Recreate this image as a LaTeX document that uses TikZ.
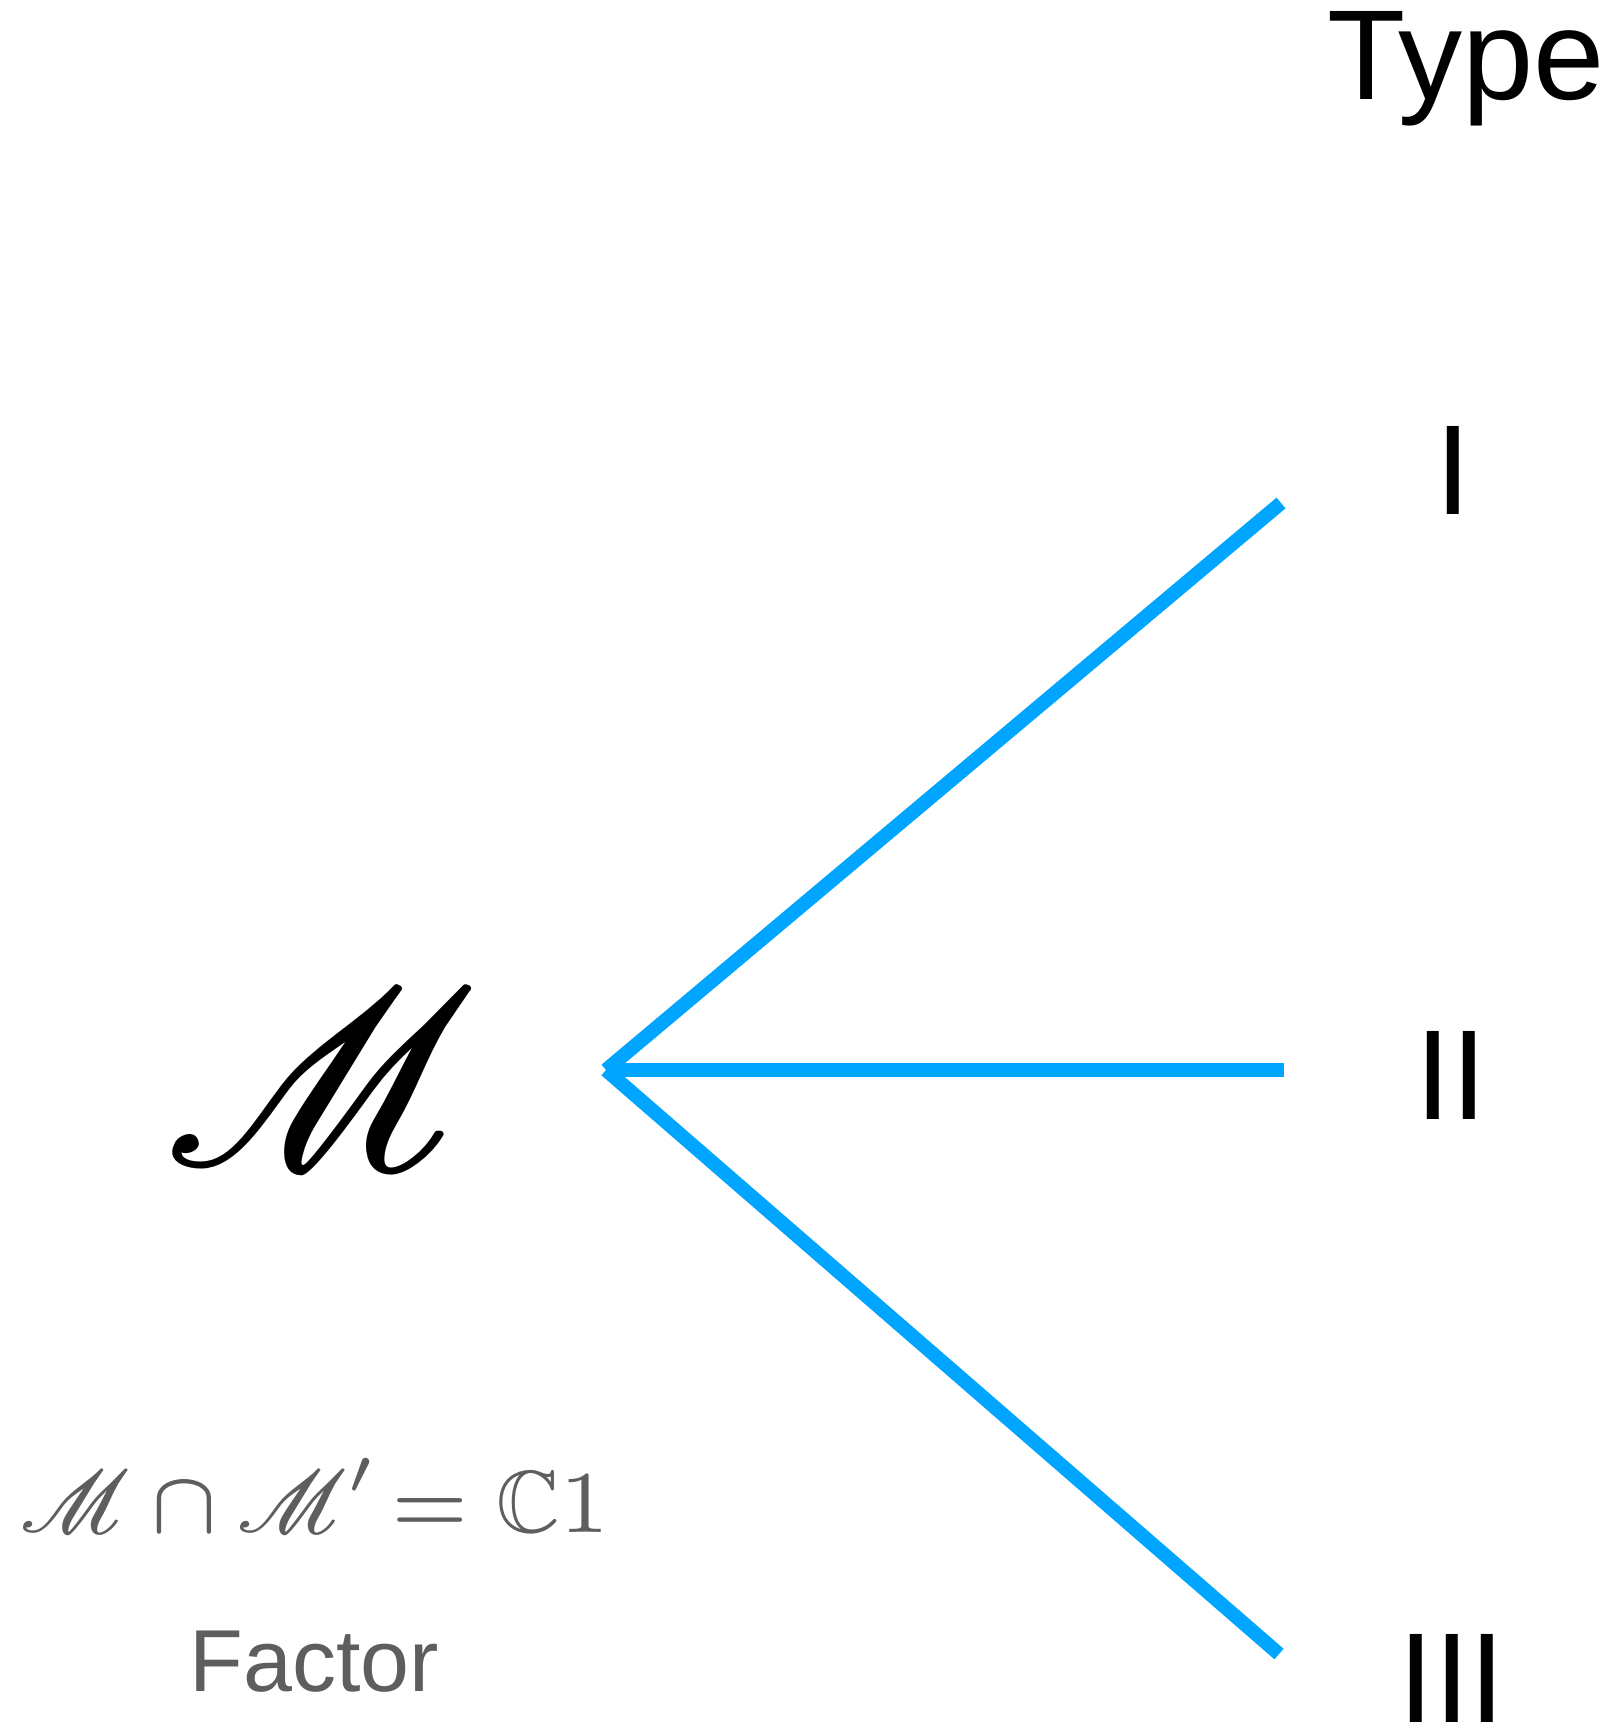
\documentclass[tikz,border=0pt]{standalone}
\usepackage[no-math]{fontspec}
\usepackage{amssymb}
\usepackage{mathrsfs}
\newfontfamily\helv{Liberation Sans}
\definecolor{lineblue}{RGB}{0,165,255}
\definecolor{txtgray}{RGB}{94,94,94}
\begin{document}
\begin{tikzpicture}[x=1pt,y=-1pt,
  conn/.style={line width=14pt, draw=lineblue},
  bigtext/.style={font=\helv\fontsize{128}{128}\selectfont, inner sep=0pt},
  graytext/.style={text=txtgray, inner sep=0pt, anchor=base},
  fsym/.style={graytext, scale=12.6},
  fscr/.style={graytext, scale=12.6, xslant=-0.12}]
\useasboundingbox (0,0) rectangle (1603,1734);
\coordinate (v) at (606,1070);
\coordinate (e1) at (1281,503);
\coordinate (e2) at (1284,1070);
\coordinate (e3) at (1279,1654);
\draw[conn] (v) -- (e1);
\draw[conn] (v) -- (e2);
\draw[conn] (v) -- (e3);
\node[bigtext, anchor=base west] (type) at (1327,100) {Type};
\node[bigtext, anchor=base] (t1) at (1453,514) {I};
\node[bigtext, anchor=base] (t2) at (1451,1119) {II};
\node[bigtext, anchor=base, text depth=0pt] (t3) at (1452,1722) {III};
\node[inner sep=0pt, scale=36, xslant=-0.12] (M) at (322,1078) {$\scriptstyle\mathscr{M}$};
% formula  M \cap M' = C1
\node[fscr] (fM1) at (79,1532) {$\scriptstyle\mathscr{M}$};
\node[fsym] (fcap) at (184,1532) {$\scriptstyle\cap$};
\node[fscr] (fM2) at (296,1532) {$\scriptstyle\mathscr{M}$};
\node[fsym] (fprime) at (364,1532) {$\scriptstyle{}'$};
\node[fsym] (feq) at (430,1532) {$\scriptstyle=$};
\node[fsym] (fC) at (553,1532) {$\scriptstyle\mathbb{C}1$};
\node[graytext, font=\helv\fontsize{88}{88}\selectfont] (factor) at (314,1691) {Factor};
\end{tikzpicture}
\end{document}
